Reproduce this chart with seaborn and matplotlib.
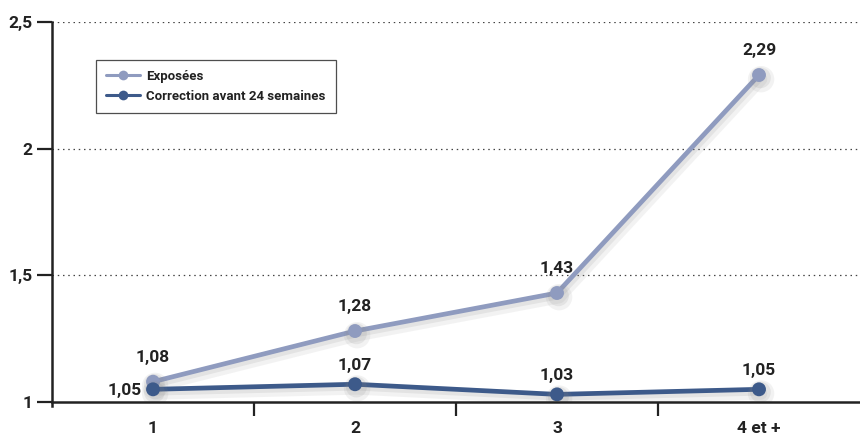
import matplotlib
matplotlib.use("Agg")
import matplotlib.pyplot as plt
import matplotlib.patheffects as pe
import pandas as pd
import seaborn as sns

categories = ["1", "2", "3", "4 et +"]
exposees = [1.08, 1.28, 1.43, 2.29]
correction = [1.05, 1.07, 1.03, 1.05]
series_names = ["Exposées", "Correction avant 24 semaines"]
y_ticks = [1, 1.5, 2, 2.5]
y_tick_labels = ["1", "1,5", "2", "2,5"]

light = "#8f9bbf"
dark = "#3d5a8a"
ink = "#222222"

sns.set_theme(style="white")
plt.rcParams["font.family"] = ["Roboto", "DejaVu Sans"]
plt.rcParams["font.weight"] = "bold"

df = pd.DataFrame({
    "cat": list(range(len(categories))) * 2,
    "val": exposees + correction,
    "serie": [series_names[0]] * len(categories) + [series_names[1]] * len(categories),
})

fig = plt.figure(figsize=(8.6, 4.36), dpi=100)
ax = fig.add_axes([0.0605, 0.078, 0.9395, 0.872])

shadow = [
    pe.SimpleLineShadow(offset=(1.5, -3), shadow_color="#888888", alpha=0.10, linewidth=9),
    pe.SimpleLineShadow(offset=(1.0, -2), shadow_color="#888888", alpha=0.14, linewidth=5),
    pe.Normal(),
]

sns.lineplot(data=df, x="cat", y="val", hue="serie", hue_order=series_names,
             palette=[light, dark], marker="o", markersize=10, markeredgewidth=0,
             linewidth=3.4, ax=ax, legend=True)
for ln in ax.lines:
    ln.set_path_effects(shadow)

ax.set_xlim(-0.5, 3.5)
ax.set_ylim(1, 2.5)
ax.set_xlabel("")
ax.set_ylabel("")

# y axis
ax.set_yticks(y_ticks)
ax.set_yticklabels(y_tick_labels, fontsize=12.5, fontweight="bold", color=ink)
ax.tick_params(axis="y", direction="out", length=11, width=1.6, color=ink, pad=3, left=True)

# x axis: labels under the categories, ticks between them
ax.set_xticks(range(len(categories)))
ax.set_xticklabels(categories, fontsize=12.5, fontweight="bold", color=ink)
ax.tick_params(axis="x", length=0, pad=14)
ax.set_xticks([0.5, 1.5, 2.5], minor=True)
ax.tick_params(axis="x", which="minor", direction="out", length=10, width=1.6, color=ink, bottom=True)

for s in ["top", "right"]:
    ax.spines[s].set_visible(False)
ax.spines["left"].set_color(ink)
ax.spines["left"].set_linewidth(1.8)
ax.spines["left"].set_bounds(0.985, 2.5)
ax.spines["bottom"].set_color(ink)
ax.spines["bottom"].set_linewidth(1.8)

for yv in y_ticks[1:]:
    ax.axhline(yv, color="#444444", linestyle=(0, (1.2, 3)), linewidth=0.9, zorder=0)

# value labels
def fmt(v):
    return f"{v:.2f}".replace(".", ",")

for i, v in enumerate(exposees):
    ax.annotate(fmt(v), (i, v), xytext=(0, 12), textcoords="offset points",
                ha="center", va="bottom", fontsize=12.5, fontweight="bold", color=ink)
for i, v in enumerate(correction):
    if i == 0:
        ax.annotate(fmt(v), (i, v), xytext=(-8, -1), textcoords="offset points",
                    ha="right", va="center", fontsize=12.5, fontweight="bold", color=ink)
    else:
        ax.annotate(fmt(v), (i, v), xytext=(0, 8), textcoords="offset points",
                    ha="center", va="bottom", fontsize=12.5, fontweight="bold", color=ink)

leg = ax.legend(loc="upper left", bbox_to_anchor=(0.054, 0.9), frameon=True, fancybox=False,
                edgecolor=ink, fontsize=9.5, handlelength=2.6, borderpad=0.75,
                labelspacing=0.55, handletextpad=0.5, borderaxespad=0, title=None)
leg.get_frame().set_linewidth(0.9)
for t in leg.get_texts():
    t.set_fontweight("bold")
    t.set_color(ink)
for h in leg.get_lines():
    h.set_path_effects([])
    h.set_linewidth(2.2)
    h.set_markersize(7)

fig.savefig("out.png", dpi=100)
